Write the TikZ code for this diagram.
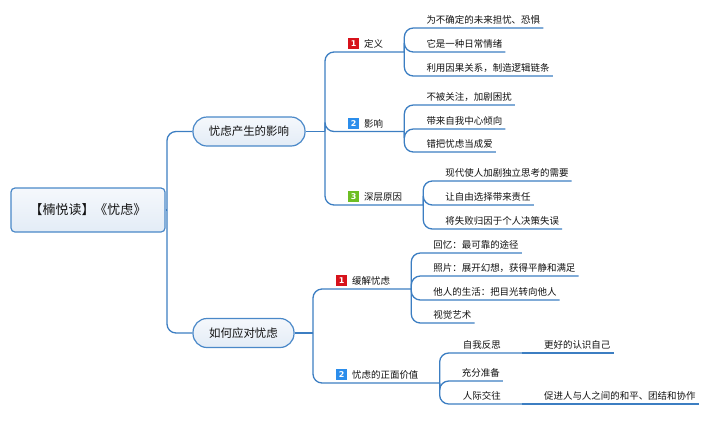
\documentclass[tikz,border=0pt]{standalone}
\usepackage{fontspec}
\setmainfont{Noto Sans CJK SC}
\newfontfamily\badgefont{DejaVu Sans}
\usetikzlibrary{scopes}
\definecolor{branchblue}{HTML}{3C7EC2}
\definecolor{topicline}{HTML}{4A88C8}
\definecolor{topictop}{HTML}{F5F8FC}
\definecolor{topicbottom}{HTML}{E3ECF6}
\definecolor{badgered}{HTML}{D7121B}
\definecolor{badgeblue}{HTML}{2B8DEB}
\definecolor{badgegreen}{HTML}{6DBE24}
\definecolor{inktext}{HTML}{111111}
\newcommand{\numbadge}[2]{\makebox[0pt][l]{\color{#1}\rule[-1.2bp]{11bp}{11bp}}\makebox[11bp]{\raisebox{1.2bp}{\badgefont\bfseries\fontsize{8}{8}\selectfont\color{white}#2}}\hspace{5bp}}

\begin{document}
\begin{tikzpicture}[x=1bp,y=-1bp,
    root/.style={rectangle,rounded corners=4bp,draw=topicline,line width=1.2bp,top color=topictop,bottom color=topicbottom,minimum width=154bp,minimum height=44bp,font=\fontsize{13}{15}\selectfont,text=inktext},
    topic/.style={rectangle,rounded corners=14bp,draw=topicline,line width=1.2bp,top color=topictop,bottom color=topicbottom,minimum height=29bp,font=\fontsize{11.5}{13}\selectfont,text=inktext},
    subtopic/.style={anchor=south west,inner xsep=21bp,inner ysep=4bp,text depth=0pt,font=\fontsize{9.5}{11}\selectfont,text=inktext},
    detail/.style={subtopic,inner xsep=3bp},
    branch/.style={draw=branchblue,line width=1.3bp,rounded corners=9bp},
]
    \useasboundingbox (0,0) rectangle (707,420);

    \node[root] (root) at (88,210) {【楠悦读】《忧虑》};
    \node[topic,minimum width=112bp] (effect) at (249,131.5) {忧虑产生的影响};
    \node[topic,minimum width=101bp] (cope) at (243.5,333) {如何应对忧虑};
    \coordinate (f0) at (167,210);
    \coordinate (f1) at (325,131.5);
    \coordinate (f2) at (313,333);

    \node[subtopic] (define) at (327,52) {\numbadge{badgered}{1}定义};
    \node[subtopic] (impact) at (327,131.5) {\numbadge{badgeblue}{2}影响};
    \node[subtopic] (cause) at (327,205) {\numbadge{badgegreen}{3}深层原因};
    \node[subtopic] (ease) at (315,289) {\numbadge{badgered}{1}缓解忧虑};
    \node[subtopic] (value) at (315,383) {\numbadge{badgeblue}{2}忧虑的正面价值};

    \node[detail,xshift=19bp] (define1) at (define.south east |- 0,28) {为不确定的未来担忧、恐惧};
    \node[detail,xshift=19bp] (define2) at (define.south east |- 0,52) {它是一种日常情绪};
    \node[detail,xshift=19bp] (define3) at (define.south east |- 0,76) {利用因果关系，制造逻辑链条};

    \node[detail,xshift=19bp] (impact1) at (impact.south east |- 0,105) {不被关注，加剧困扰};
    \node[detail,xshift=19bp] (impact2) at (impact.south east |- 0,129) {带来自我中心倾向};
    \node[detail,xshift=19bp] (impact3) at (impact.south east |- 0,152) {错把忧虑当成爱};

    \node[detail,xshift=19bp] (cause1) at (cause.south east |- 0,181) {现代使人加剧独立思考的需要};
    \node[detail,xshift=19bp] (cause2) at (cause.south east |- 0,205) {让自由选择带来责任};
    \node[detail,xshift=19bp] (cause3) at (cause.south east |- 0,229) {将失败归因于个人决策失误};

    \node[detail,xshift=19bp] (ease1) at (ease.south east |- 0,253) {回忆：最可靠的途径};
    \node[detail,xshift=19bp] (ease2) at (ease.south east |- 0,276) {照片：展开幻想，获得平静和满足};
    \node[detail,xshift=19bp] (ease3) at (ease.south east |- 0,300) {他人的生活：把目光转向他人};
    \node[detail,xshift=19bp] (ease4) at (ease.south east |- 0,323) {视觉艺术};

    \node[subtopic,xshift=2bp] (reflect) at (value.south east |- 0,353) {自我反思};
    \node[detail,xshift=19bp] (prepare) at (value.south east |- 0,381) {充分准备};
    \node[subtopic,xshift=2bp] (social) at (value.south east |- 0,404) {人际交往};
    \node[detail,xshift=19bp] (reflect1) at (reflect.south east) {更好的认识自己};
    \node[detail,xshift=19bp] (social1) at (social.south east) {促进人与人之间的和平、团结和协作};

    {[branch]
        \draw (root.east) -- (f0);
        \draw (f0) |- (effect.west);
        \draw (f0) |- (cope.west);
        \draw (effect.east) -- (f1);
        \draw (cope.east) -- (f2);
        \foreach \s in {define,impact,cause} \draw (f1) |- (\s.south east);
        \foreach \s in {ease,value} \draw (f2) |- (\s.south east);
        \foreach \d in {define1,define2,define3} \draw (define.south east) |- (\d.south east);
        \foreach \d in {impact1,impact2,impact3} \draw (impact.south east) |- (\d.south east);
        \foreach \d in {cause1,cause2,cause3} \draw (cause.south east) |- (\d.south east);
        \foreach \d in {ease1,ease2,ease3,ease4} \draw (ease.south east) |- (\d.south east);
        \foreach \d in {reflect,prepare,social} \draw (value.south east) |- (\d.south east);
        \draw (reflect.south east) -- (reflect1.south east);
        \draw (social.south east) -- (social1.south east);
    }
\end{tikzpicture}
\end{document}
